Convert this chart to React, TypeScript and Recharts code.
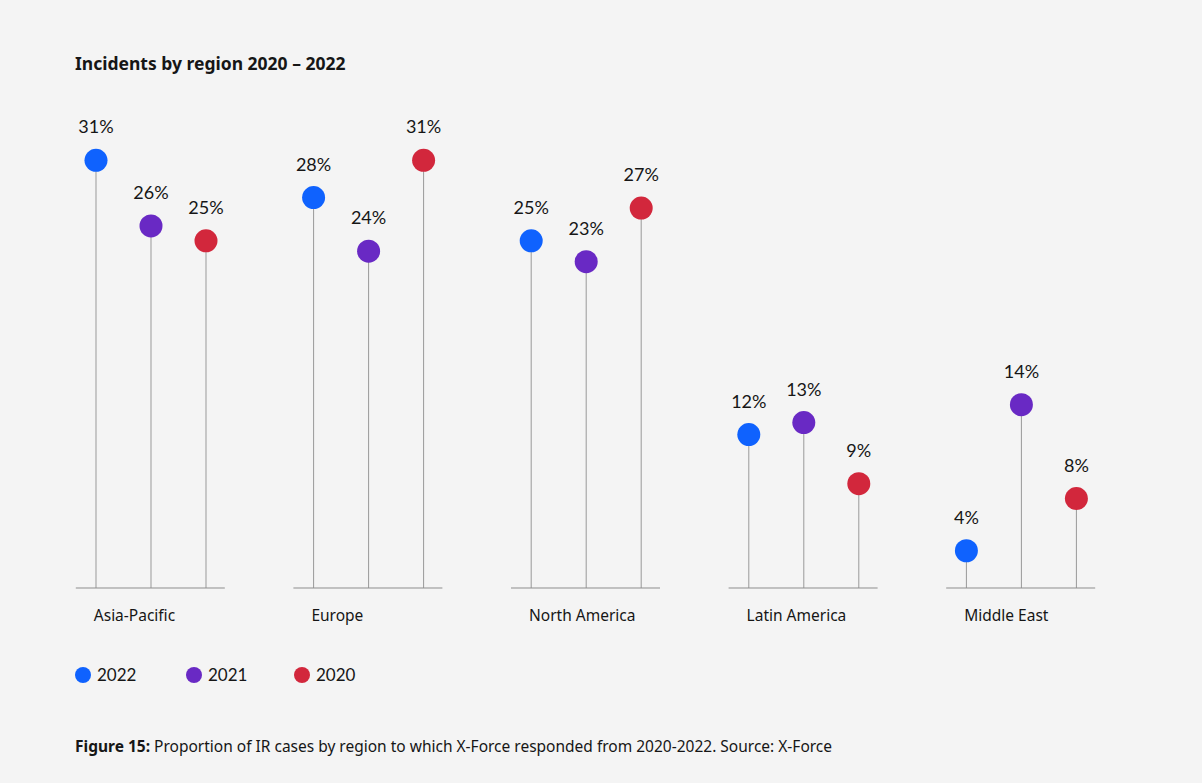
import React from 'react';
import { BarChart, Bar, XAxis, YAxis, Legend, LabelList } from 'recharts';

const regions = ['Asia-Pacific', 'Europe', 'North America', 'Latin America', 'Middle East'];
const years = ['2022', '2021', '2020'];
const colors = ['#0f62fe', '#6929c4', '#d2273c'];

// drawn heights (share of IR cases, %)
const values2022 = [30.4, 27.9, 25.0, 12.0, 4.2];
const values2021 = [26.0, 24.3, 23.6, 12.8, 14.0];
const values2020 = [25.0, 30.4, 27.2, 8.7, 7.7];

// printed labels (%)
const labels2022 = [31, 28, 25, 12, 4];
const labels2021 = [26, 24, 23, 13, 14];
const labels2020 = [25, 31, 27, 9, 8];

const data = regions.map((r, i) => ({
  region: r,
  y2022: values2022[i],
  y2021: values2021[i],
  y2020: values2020[i],
}));

const seriesKeys = ['y2022', 'y2021', 'y2020'];
const seriesLabels = [labels2022, labels2021, labels2020];

const LABEL_FONT = 'Lato, "Noto Sans", sans-serif';
const TEXT_FONT = '"Noto Sans", Roboto, sans-serif';

const Lollipop = (props: any) => {
  const { x, y, width, height, fill } = props;
  const cx = x + width / 2;
  return (
    <g>
      <line x1={cx} y1={y} x2={cx} y2={y + height} stroke="#999999" strokeWidth={1} />
      <circle cx={cx} cy={y} r={11.5} fill={fill} />
    </g>
  );
};

const makeLabel = (labels: number[]) => (p: any) => {
  const { x, y, width, index } = p;
  return (
    <text
      x={x + width / 2}
      y={y - 27}
      textAnchor="middle"
      fontFamily={LABEL_FONT}
      fontSize={18}
      fill="#161616"
    >
      {labels[index]}%
    </text>
  );
};

const RegionTick = (props: any) => {
  const { x, y, payload } = props;
  return (
    <g>
      <line x1={x - 75} y1={y} x2={x + 74} y2={y} stroke="#8d8d8d" strokeWidth={1} />
      <text x={x - 57} y={y + 33} fontFamily={TEXT_FONT} fontSize={15.5} fill="#161616">
        {payload.value}
      </text>
    </g>
  );
};

const LegendContent = () => (
  <div style={{ display: 'flex', alignItems: 'center', fontFamily: LABEL_FONT, fontSize: 17, color: '#161616' }}>
    {years.map((yr, i) => (
      <div key={yr} style={{ display: 'flex', alignItems: 'center', width: i === 0 ? 111 : 108 }}>
        <span
          style={{
            display: 'inline-block',
            width: 16,
            height: 16,
            borderRadius: 8,
            background: colors[i],
            marginRight: 6,
          }}
        />
        <span>{yr}</span>
      </div>
    ))}
  </div>
);

export default function App() {
  return (
    <div style={{ position: 'fixed', left: 0, top: 0, width: 1202, height: 783, background: '#f4f4f4', overflow: 'hidden' }}>
      <div
        style={{
          position: 'absolute',
          left: 75,
          top: 51,
          fontFamily: TEXT_FONT,
          fontWeight: 700,
          fontSize: 17.5,
          color: '#161616',
          whiteSpace: 'nowrap',
        }}
      >
        Incidents by region 2020 – 2022
      </div>
      <div style={{ position: 'absolute', left: 0, top: 0 }}>
        <BarChart
          width={1202}
          height={783}
          data={data}
          margin={{ top: 100, right: 72, bottom: 114, left: 42 }}
          barSize={20}
          barGap={35}
        >
          <XAxis
            dataKey="region"
            axisLine={false}
            tickLine={false}
            tickSize={0}
            tickMargin={0}
            height={60}
            interval={0}
            tick={<RegionTick />}
          />
          <YAxis hide domain={[1.7, 34.45]} allowDataOverflow />
          <Legend
            content={<LegendContent />}
            wrapperStyle={{ position: 'absolute', left: 75, top: 664, width: 'auto', bottom: 'auto' }}
          />
          {seriesKeys.map((k, i) => (
            <Bar
              key={k}
              dataKey={k}
              name={years[i]}
              fill={colors[i]}
              shape={<Lollipop />}
              isAnimationActive={false}
            >
              <LabelList dataKey={k} content={makeLabel(seriesLabels[i])} />
            </Bar>
          ))}
        </BarChart>
      </div>
      <div
        style={{
          position: 'absolute',
          left: 75,
          top: 735,
          fontFamily: TEXT_FONT,
          fontSize: 15.5,
          color: '#161616',
          whiteSpace: 'nowrap',
        }}
      >
        <span style={{ fontWeight: 700 }}>Figure 15:</span> Proportion of IR cases by region to which X-Force responded from 2020-2022. Source: X-Force
      </div>
    </div>
  );
}
